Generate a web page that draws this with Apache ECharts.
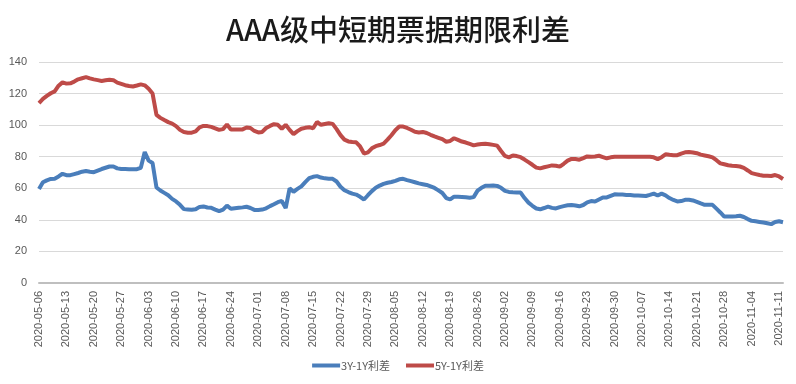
<!DOCTYPE html>
<html>
<head>
<meta charset="utf-8">
<script src="https://cdn.jsdelivr.net/npm/echarts@6/dist/echarts.min.js"></script>
<style>
html,body{margin:0;padding:0;background:#fff;}
#chart{width:796px;height:384px;}
</style>
</head>
<body>
<div id="chart"></div>
<script>
// Daily dates from startDate to endDate (calendar days)
const startDate = '2020-05-06';
const endDate = '2020-11-12';
// Weekly tick labels shown on the x axis
const tickLabels = ['2020-05-06','2020-05-13','2020-05-20','2020-05-27','2020-06-03','2020-06-10','2020-06-17','2020-06-24',
  '2020-07-01','2020-07-08','2020-07-15','2020-07-22','2020-07-29','2020-08-05','2020-08-12','2020-08-19','2020-08-26',
  '2020-09-02','2020-09-09','2020-09-16','2020-09-23','2020-09-30','2020-10-07','2020-10-14','2020-10-21','2020-10-28',
  '2020-11-04','2020-11-11'];
const seriesNames = ['3Y-1Y利差', '5Y-1Y利差'];
// 3Y-1Y spread, one value per calendar day (rows = weeks starting Wednesday)
const spread3y1y = [
  59.6, 63.8, 65, 65.9, 66.1, 67.5, 69.2,
  68.3, 68.3, 69, 69.7, 70.5, 70.9, 70.5,
  70.2, 71.2, 72.2, 73, 73.8, 73.8, 72.6,
  72.2, 72.2, 72.1, 72.1, 72.1, 73, 83,
  77.5, 76, 60.5, 58.6, 57.1, 55.6, 53.3,
  51.7, 49.5, 46.8, 46.6, 46.4, 46.7, 48.2,
  48.5, 47.8, 47.6, 46.5, 45.5, 46.5, 49,
  47, 47.3, 47.6, 47.9, 48.3, 47.5, 46.3,
  46.2, 46.5, 47.3, 48.7, 49.9, 51.2, 52,
  47.5, 60, 57.8, 59.6, 61.2, 63.9, 66.4,
  67.3, 67.7, 66.8, 66.3, 66.1, 66, 64.3,
  61, 58.8, 57.6, 56.6, 56, 54.6, 52.9,
  55.6, 58.2, 60.3, 61.7, 62.8, 63.5, 64,
  64.7, 65.7, 66, 65.2, 64.5, 63.8, 63.1,
  62.6, 62.1, 61.2, 60.2, 58.7, 57, 53.8,
  53, 54.7, 54.6, 54.5, 54.3, 54, 54.4,
  58.5, 60.3, 61.6, 61.6, 61.7, 61.5, 60.3,
  58.4, 57.7, 57.5, 57.4, 57.3, 53.8, 50.9,
  48.9, 47.2, 46.7, 47.5, 48.4, 47.6, 47.2,
  48.1, 48.7, 49.2, 49.4, 49.1, 48.6, 49.4,
  51.1, 51.9, 51.6, 52.9, 54.2, 54.2, 55.2,
  56.2, 56.1, 56, 55.8, 55.7, 55.5, 55.4,
  55.3, 55.1, 55.8, 56.6, 55.4, 56.6, 55.5,
  53.8, 52.6, 51.7, 51.9, 52.7, 52.7, 52.3,
  51.4, 50.4, 49.5, 49.5, 49.5, 47.1, 44.7,
  42.1, 42.1, 42.1, 42.3, 42.6, 41.8, 40.5,
  39.4, 39.1, 38.7, 38.3, 37.8, 37.3, 38.6,
  39.1, 38.5
];
// 5Y-1Y spread, one value per calendar day
const spread5y1y = [
  114, 116.6, 118.5, 120.2, 121.4, 125, 127.1,
  126.3, 126.5, 127.6, 129, 129.7, 130.4, 129.6,
  129, 128.5, 128, 128.4, 128.8, 128.5, 126.9,
  126.1, 125.3, 124.8, 124.5, 125.1, 125.8, 125.2,
  123, 120, 106.5, 104.6, 103.2, 101.9, 101,
  99.4, 97, 95.6, 95.2, 95.2, 96, 98.6,
  99.5, 99.4, 98.9, 98, 97, 97.5, 100.4,
  97.3, 97.3, 97.3, 97.3, 98.5, 98.2, 96.3,
  95.4, 95.7, 98.2, 99.5, 100.6, 100.2, 97.7,
  100.2, 97, 94.3, 96.2, 97.7, 98.3, 98.7,
  98, 102, 100.2, 100.7, 101.2, 100.8, 97.5,
  93.7, 90.8, 89.7, 89.3, 89.1, 86.5, 82,
  82.8, 85.3, 86.7, 87.4, 88.3, 90.8, 93.6,
  96.8, 99.1, 99.1, 98.2, 97.1, 95.8, 95.4,
  95.7, 95, 93.9, 92.9, 92, 91.1, 89.5,
  90, 91.7, 90.7, 89.6, 89, 88.1, 87.2,
  87.7, 88.1, 88.2, 87.9, 87.5, 87, 83.6,
  80.5, 79.6, 80.8, 80.4, 79.7, 78.2, 76.6,
  74.9, 73.1, 72.6, 73.3, 73.9, 74.5, 74.3,
  73.7, 75.5, 77.5, 78.6, 78.5, 78.1, 79.1,
  80.2, 80, 80.1, 80.6, 79.8, 79, 79.6,
  80, 80, 80, 80, 80, 80, 80,
  80, 80, 80, 79.6, 78.5, 79.7, 81.5,
  81.2, 81, 81, 82, 82.8, 83, 82.7,
  82.2, 81.3, 80.8, 80.3, 79.6, 77.8, 75.8,
  75.2, 74.6, 74.3, 74.1, 73.8, 72.9, 71.3,
  69.6, 69, 68.4, 68, 67.9, 67.8, 68.4,
  67.5, 65.9
];

// build the calendar-day category list
function pad(n){return n<10?'0'+n:''+n;}
const categories = [];
{
  const s = new Date(startDate + 'T00:00:00Z');
  const e = new Date(endDate + 'T00:00:00Z');
  for (let t = s.getTime(); t <= e.getTime(); t += 86400000) {
    const d = new Date(t);
    categories.push(d.getUTCFullYear() + '-' + pad(d.getUTCMonth()+1) + '-' + pad(d.getUTCDate()));
  }
}
const tickSet = new Set(tickLabels);

const chart = echarts.init(document.getElementById('chart'), null, {renderer: 'canvas'});
const fontFamily = '"Noto Sans CJK SC", "Microsoft YaHei", sans-serif';
chart.setOption({
  animation: false,
  backgroundColor: '#ffffff',
  title: {
    text: 'AAA级中短期票据期限利差',
    left: 'center',
    top: 10,
    textStyle: {fontFamily: fontFamily, fontSize: 29, fontWeight: 500, color: '#1a1a1a'}
  },
  legend: {
    bottom: 8,
    left: 'center',
    itemGap: 16,
    itemWidth: 28,
    itemHeight: 4,
    icon: 'rect',
    textStyle: {fontFamily: fontFamily, fontSize: 11, color: '#595959', padding: [0,0,0,-4]},
    data: seriesNames
  },
  grid: {left: 39, right: 13, top: 62, bottom: 101, containLabel: false},
  xAxis: {
    type: 'category',
    data: categories,
    boundaryGap: false,
    axisLine: {lineStyle: {color: '#bfbfbf', width: 2}},
    axisTick: {show: false},
    axisLabel: {
      rotate: 90,
      margin: 8,
      fontSize: 11,
      color: '#595959',
      fontFamily: '"Liberation Sans", Arial, sans-serif',
      interval: function(idx, val){ return tickSet.has(val); }
    },
    splitLine: {show: false}
  },
  yAxis: {
    type: 'value',
    min: 0, max: 140, interval: 20,
    axisLine: {show: false},
    axisTick: {show: false},
    axisLabel: {fontSize: 11, color: '#595959', margin: 12, fontFamily: '"Liberation Sans", Arial, sans-serif'},
    splitLine: {lineStyle: {color: '#d9d9d9', width: 1}}
  },
  series: [
    {
      name: seriesNames[0], type: 'line', data: spread3y1y,
      showSymbol: false, symbol: 'none',
      lineStyle: {color: '#4A7EBB', width: 4},
      itemStyle: {color: '#4A7EBB'}
    },
    {
      name: seriesNames[1], type: 'line', data: spread5y1y,
      showSymbol: false, symbol: 'none',
      lineStyle: {color: '#BE4B48', width: 4},
      itemStyle: {color: '#BE4B48'}
    }
  ]
});
</script>
</body>
</html>
